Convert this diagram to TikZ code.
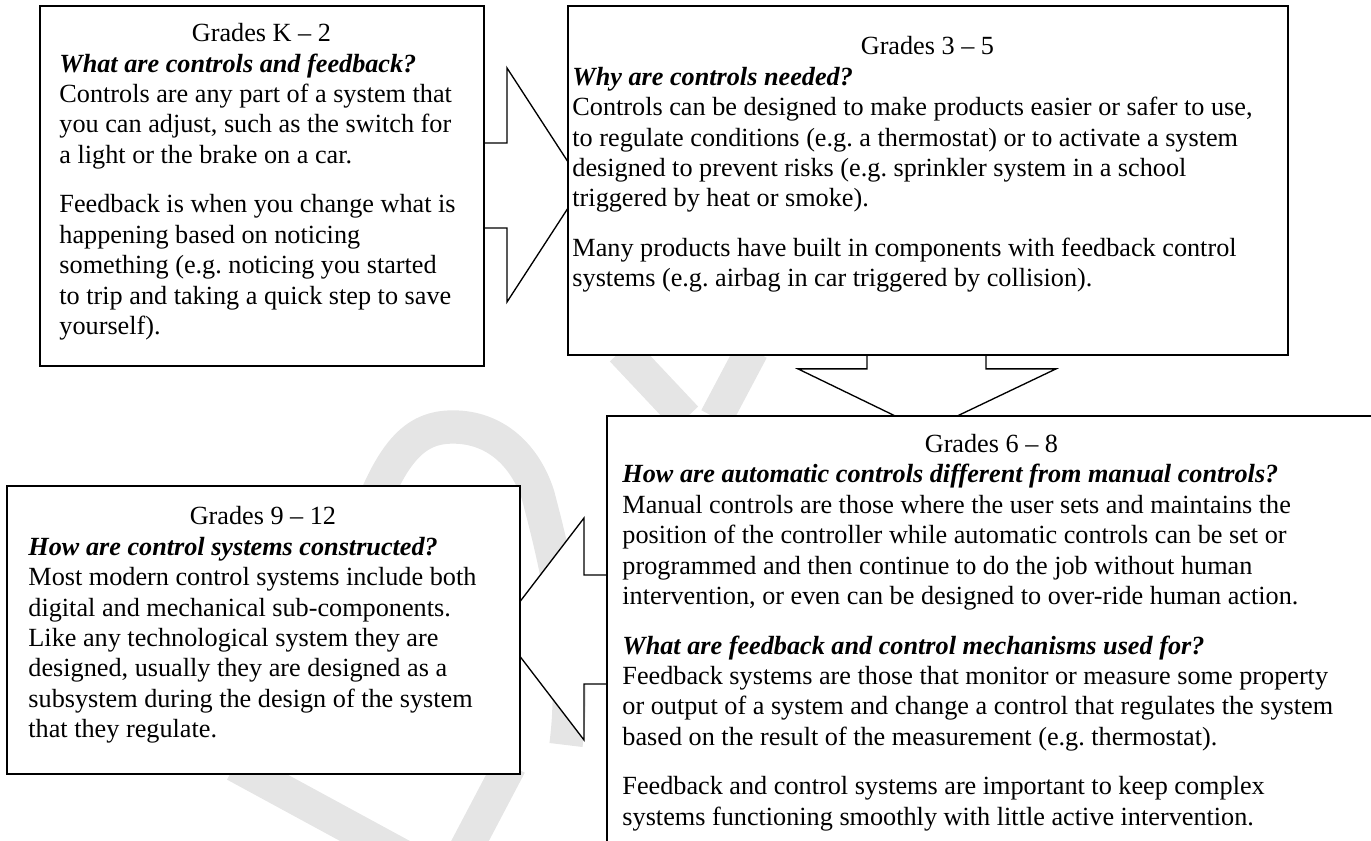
\documentclass[tikz,border=0pt]{standalone}
\usepackage{fontspec}
\setmainfont{Liberation Serif}
\usetikzlibrary{positioning,backgrounds}
\setlength{\parindent}{0pt}

\begin{document}
\begin{tikzpicture}[x=0.45pt,y=-0.45pt,
    gradebox/.style={draw,line width=0.9pt,fill=white,inner sep=0pt,anchor=north west},
    gradetext/.style={inner sep=0pt,align=left,font=\fontsize{11.8}{13.7}\selectfont\frenchspacing},
    blockarrow/.style={draw,line width=0.6pt,fill=white},
    watermark/.style={draw=black!10,line width=15pt}]
        \useasboundingbox (0,0) rectangle (1371,841);
        % grade boxes
        \node (k2) [gradebox,minimum width=199.8pt,minimum height=162pt] at (39,5) {};
        \node (g35) [gradebox,minimum width=324pt,minimum height=157pt] at (567,5) {};
        \node (g68) [gradebox,minimum width=346.5pt,minimum height=220pt] at (606,415) {};
        \node (g912) [gradebox,minimum width=230.85pt,minimum height=129.6pt] at (6,485) {};
        % texts
        \node (k2text) [gradetext,below right=8.1pt and 9pt of k2.north west] {%
            \makebox[181.8pt][c]{Grades K -- 2}\\
            \textbf{\textit{What are controls and feedback?}}\\
            Controls are any part of a system that\\
            you can adjust, such as the switch for\\
            a light or the brake on a car.\\[8.5pt]
            Feedback is when you change what is\\
            happening based on noticing\\
            something (e.g. noticing you started\\
            to trip and taking a quick step to save\\
            yourself).};
        \node (g35text) [gradetext,below right=14pt and 2.25pt of g35.north west] {%
            \makebox[319.5pt][c]{Grades 3 -- 5}\\
            \textbf{\textit{Why are controls needed?}}\\
            Controls can be designed to make products easier or safer to use,\\
            to regulate conditions (e.g. a thermostat) or to activate a system\\
            designed to prevent risks (e.g. sprinkler system in a school\\
            triggered by heat or smoke).\\[8.5pt]
            Many products have built in components with feedback control\\
            systems (e.g. airbag in car triggered by collision).};
        \node (g68text) [gradetext,below right=8.5pt and 7.2pt of g68.north west] {%
            \makebox[332.1pt][c]{Grades 6 -- 8}\\
            \textbf{\textit{How are automatic controls different from manual controls?}}\\
            Manual controls are those where the user sets and maintains the\\
            position of the controller while automatic controls can be set or\\
            programmed and then continue to do the job without human\\
            intervention, or even can be designed to over-ride human action.\\[8.5pt]
            \textbf{\textit{What are feedback and control mechanisms used for?}}\\
            Feedback systems are those that monitor or measure some property\\
            or output of a system and change a control that regulates the system\\
            based on the result of the measurement (e.g. thermostat).\\[8.5pt]
            Feedback and control systems are important to keep complex\\
            systems functioning smoothly with little active intervention.};
        \node (g912text) [gradetext,below right=9.5pt and 9.9pt of g912.north west] {%
            \makebox[211.05pt][c]{Grades 9 -- 12}\\
            \textbf{\textit{How are control systems constructed?}}\\
            Most modern control systems include both\\
            digital and mechanical sub-components.\\
            Like any technological system they are\\
            designed, usually they are designed as a\\
            subsystem during the design of the system\\
            that they regulate.};
        \begin{pgfonlayer}{background}
            % faint watermark
            \draw[watermark] (360,540) .. controls (390,450) and (415,427) .. (453,427)
                .. controls (495,427) and (525,455) .. (538,495)
                .. controls (555,560) and (578,650) .. (566,745);
            \draw[watermark] (235,765) -- (410,860);
            \draw[watermark] (510,765) -- (460,860);
            \draw[watermark] (622,350) -- (686,418);
            \draw[watermark] (752,350) -- (716,418);
            % block arrows
            \draw[blockarrow] (k2.north east) ++(-10,138) -- ++(32,0) -- ++(0,-75)
                -- ++(76,117) -- ++(-76,117) -- ++(0,-74) -- ++(-32,0) -- cycle;
            \draw[blockarrow] (g35.south west) ++(300,-10) -- ++(0,23) -- ++(-69,0)
                -- ++(128,62) -- ++(130,-62) -- ++(-70,0) -- ++(0,-23) -- cycle;
            \draw[blockarrow] (g68.north west) ++(10,160) -- ++(-32,0) -- ++(0,-57)
                -- ++(-85,111) -- ++(85,111) -- ++(0,-56) -- ++(32,0) -- cycle;
        \end{pgfonlayer}
    \end{tikzpicture}
\end{document}
